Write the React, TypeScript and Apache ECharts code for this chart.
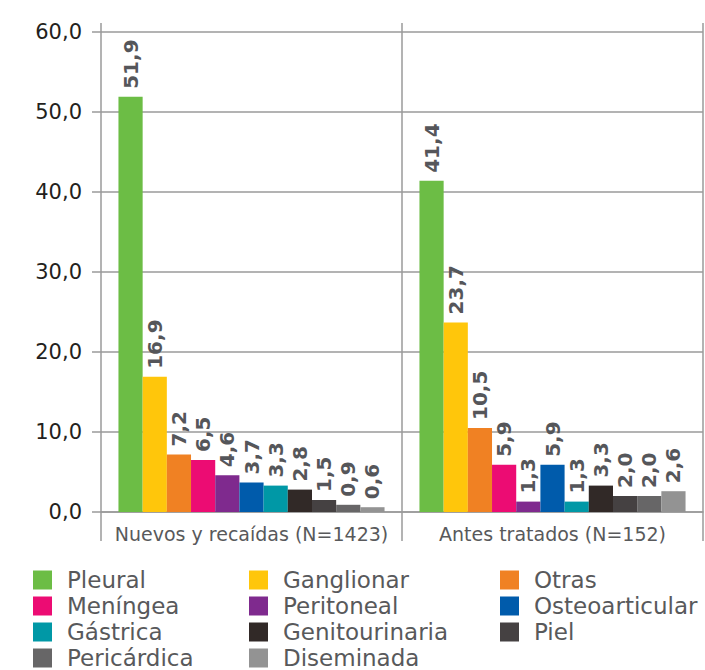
import React, { useEffect, useRef } from "react";
import * as echarts from "echarts";

const categories = ["Nuevos y recaídas (N=1423)", "Antes tratados (N=152)"];
const seriesNames = [
  "Pleural", "Ganglionar", "Otras", "Meníngea", "Peritoneal", "Osteoarticular",
  "Gástrica", "Genitourinaria", "Piel", "Pericárdica", "Diseminada",
];
const nuevos = [51.9, 16.9, 7.2, 6.5, 4.6, 3.7, 3.3, 2.8, 1.5, 0.9, 0.6];
const antes = [41.4, 23.7, 10.5, 5.9, 1.3, 5.9, 1.3, 3.3, 2.0, 2.0, 2.6];
const colors = [
  "#6cbd45", "#ffc60b", "#f08123", "#ec0c73", "#7f2a8e", "#005bab",
  "#0098a6", "#312927", "#454142", "#676667", "#939393",
];
const yTicks = [0, 10, 20, 30, 40, 50, 60];

const FONT = "'DejaVu Sans', sans-serif";
const LINE = "#9a9a9a";

export default function App() {
  const ref = useRef<HTMLDivElement>(null);
  useEffect(() => {
    if (!ref.current) return;
    const chart = echarts.init(ref.current, undefined, { renderer: "svg" });
    const series = seriesNames.map((name, i) => ({
      name,
      type: "bar",
      data: [nuevos[i], antes[i]],
      itemStyle: { color: colors[i] },
      barGap: "0%",
      barCategoryGap: "11.6%",
      label: {
        show: true,
        position: "top",
        rotate: 90,
        align: "left",
        verticalAlign: "middle",
        distance: 8,
        fontFamily: FONT,
        fontWeight: "bold",
        fontSize: 20,
        color: "#55565a",
        formatter: (p: any) => p.value.toFixed(1).replace(".", ","),
      },
    }));
    const legendCols = [33, 249, 500];
    const legendRows = [567, 593, 619, 645];
    const legends = seriesNames.map((name, i) => ({
      data: [name],
      left: legendCols[i % 3],
      top: legendRows[Math.floor(i / 3)],
      orient: "horizontal",
      icon: "rect",
      padding: 0,
      itemWidth: 19,
      itemHeight: 19,
      itemGap: 0,
      textStyle: {
        fontFamily: FONT,
        fontSize: 23,
        lineHeight: 26,
        color: "#58595b",
        padding: [0, 0, 0, 10],
      },
    }));
    const vLines = [101, 402, 703].map((x) => ({
      type: "line",
      shape: { x1: x, y1: 23, x2: x, y2: 541 },
      style: { stroke: LINE, lineWidth: 1.5 },
      z: 1,
    }));
    chart.setOption({
      animation: false,
      color: colors,
      grid: { left: 101, right: 2, top: 32, bottom: 158, containLabel: false },
      legend: legends,
      xAxis: {
        type: "category",
        data: categories,
        axisLine: { show: true, lineStyle: { color: LINE, width: 1.5 } },
        axisTick: { show: false },
        splitLine: { show: false },
        axisLabel: { interval: 0, fontFamily: FONT, fontSize: 19, color: "#58595b", margin: 12 },
      },
      yAxis: {
        type: "value",
        min: 0,
        max: 60,
        interval: 10,
        axisLine: { show: false },
        axisTick: { show: true, length: 9, lineStyle: { color: LINE, width: 1.5 } },
        splitLine: { show: true, lineStyle: { color: LINE, width: 1.5 } },
        axisLabel: {
          fontFamily: FONT,
          fontSize: 21,
          color: "#231f20",
          margin: 19,
          formatter: (v: number) => (yTicks.includes(v) ? v.toFixed(1).replace(".", ",") : ""),
        },
      },
      graphic: vLines,
      series,
    });
    return () => chart.dispose();
  }, []);
  return <div ref={ref} style={{ width: 705, height: 670, position: "absolute", left: 0, top: 0 }} />;
}
